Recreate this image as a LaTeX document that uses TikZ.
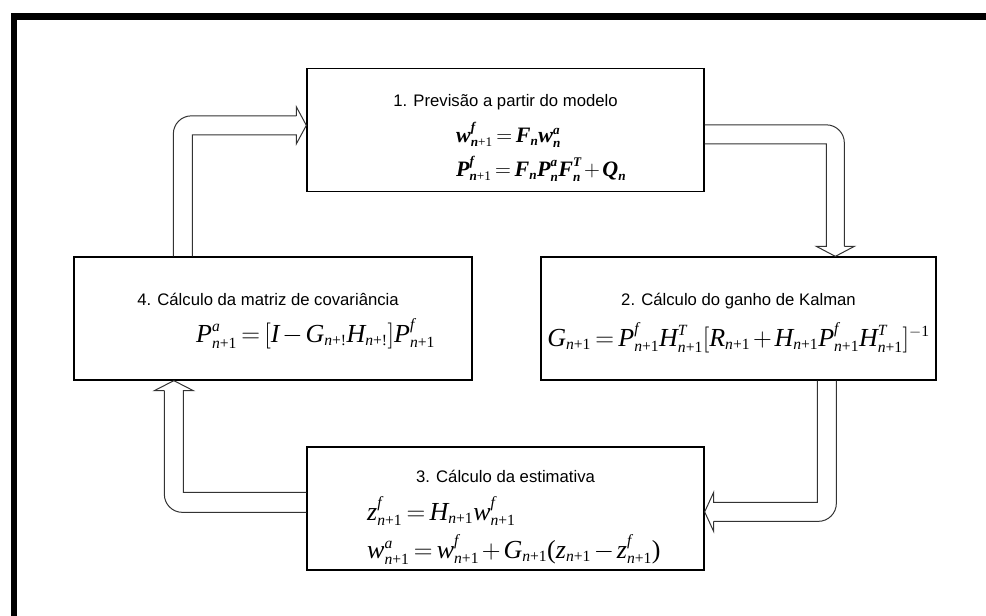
\documentclass[tikz,border=0pt]{standalone}
\usepackage{fix-cm}
\usepackage{amsmath}
\usepackage{fontspec}
\setmainfont{Liberation Sans}
\newfontfamily\tms{Liberation Serif}
\usetikzlibrary{calc}
\DeclareMathSizes{26}{26}{15.6}{12}
\DeclareMathSizes{22}{22}{13.2}{10}
\newcommand\Ti[1]{\text{\tms\itshape #1}}
\newcommand\Tb[1]{\text{\tms\bfseries\itshape #1}}
\newcommand\Tr[1]{\text{\tms #1}}
\newcommand\np{\Ti{n}\Tr{+1}}
\newcommand\npb{\Tb{n}\Tr{+1}}
\tikzset{
  box/.style={draw=black, line width=1.3pt, inner sep=0pt, minimum width=397pt, minimum height=123pt},
  ttl/.style={font=\fontsize{16.7}{20}\selectfont, anchor=base, inner sep=0pt},
  eqa/.style={font={\fontsize{22}{26}\selectfont\thickmuskip=3mu\medmuskip=2mu}, anchor=base west, inner sep=0pt},
  eqb/.style={font={\fontsize{26}{30}\selectfont\thickmuskip=3mu\medmuskip=2mu}, anchor=base west, inner sep=0pt},
  barrow/.style={draw=black!80, line width=1pt, line join=miter},
  frame/.style={draw=black, line width=6.5pt}
}
\begin{document}
\begin{tikzpicture}[x=1pt,y=-1pt]
\useasboundingbox (0,0) rectangle (986,616);
\draw[frame] (14,640) -- (14,16.5) -- (990,16.5);
% boxes
\node[box] (b1) at (505.5,130) {};
\node[box, minimum width=395pt] (b2) at (738.5,318.5) {};
\node[box, minimum width=398pt] (b4) at (273,318.5) {};
\node[box] (b3) at (505.5,508.5) {};
% texts
\node[ttl] (t1) at (505.5,106) {1. Previsão a partir do modelo};
\node[eqa] (e1a) at (456,142) {$\Tb{w}^{\Tb{f}}_{\npb} = \Tb{F}_{\Tb{n}}\Tb{w}^{\Tb{a}}_{\Tb{n}}$};
\node[eqa] (e1b) at (456,176) {$\Tb{P}^{\Tb{f}}_{\npb} = \Tb{F}_{\Tb{n}}\Tb{P}^{\Tb{a}}_{\Tb{n}}\Tb{F}^{\Tb{T}}_{\Tb{n}} + \Tb{Q}_{\Tb{n}}$};
\node[ttl] (t2) at (738.5,305) {2. Cálculo do ganho de Kalman};
\node[eqb, anchor=base] (e2) at (738.5,346) {$\Ti{G}_{\np} = \Ti{P}^{\Ti{f}}_{\np}\Ti{H}^{\Ti{T}}_{\np}[\Ti{R}_{\np} + \Ti{H}_{\np}\Ti{P}^{\Ti{f}}_{\np}\Ti{H}^{\Ti{T}}_{\np}]^{-\Tr{1}}$};
\node[ttl] (t4) at (268,305) {4. Cálculo da matriz de covariância};
\node[eqb] (e4) at (196,342) {$\Ti{P}^{\Ti{a}}_{\np} = [\Ti{I} - \Ti{G}_{\Ti{n}\Tr{+!}}\Ti{H}_{\Ti{n}\Tr{+!}}]\Ti{P}^{\Ti{f}}_{\np}$};
\node[ttl] (t3) at (505.5,482) {3. Cálculo da estimativa};
\node[eqb] (e3a) at (367,520) {$\Ti{z}^{\Ti{f}}_{\np} = \Ti{H}_{\np}\Ti{w}^{\Ti{f}}_{\np}$};
\node[eqb] (e3b) at (367,558) {$\Ti{w}^{\Ti{a}}_{\np} = \Ti{w}^{\Ti{f}}_{\np} + \Ti{G}_{\np}\Tr{(}\Ti{z}_{\np} - \Ti{z}^{\Ti{f}}_{\np}\Tr{)}$};
% arrow 4 -> 1
\draw[barrow, rounded corners=18pt] ($(b4.north west)+(100,0)$) |- ($(b1.north west)+(-10,48)$);
\draw[barrow] ($(b1.north west)+(-10,48)$) -- ++(0,-9) -- ($(b1.north west)+(0,57.5)$) -- ++(-10,18.5) -- ++(0,-9) -| ($(b4.north west)+(119,0)$);
% arrow 1 -> 2
\draw[barrow, rounded corners=18pt] ($(b1.north east)+(0,57)$) -| ($(b2.north west)+(304,-10)$);
\draw[barrow] ($(b2.north west)+(304,-10)$) -- ++(10,0) -- ($(b2.north west)+(295,0)$) -- ++(-19,-10) -- ++(10,0) |- ($(b1.north east)+(0,76)$);
% arrow 2 -> 3
\draw[barrow, rounded corners=18pt] ($(b2.south west)+(296,0)$) |- ($(b3.north east)+(9,75)$);
\draw[barrow] ($(b3.north east)+(9,75)$) -- ++(0,10) -- ($(b3.north east)+(0,65.5)$) -- ++(9,-19.5) -- ++(0,10) -| ($(b2.south west)+(277,0)$);
% arrow 3 -> 4
\draw[barrow, rounded corners=18pt] ($(b3.north west)+(0,66)$) -| ($(b4.south west)+(91,10)$);
\draw[barrow] ($(b4.south west)+(91,10)$) -- ++(-10,0) -- ($(b4.south west)+(100.5,0)$) -- ++(19.5,10) -- ++(-10,0) |- ($(b3.north west)+(0,46)$);
\end{tikzpicture}
\end{document}
